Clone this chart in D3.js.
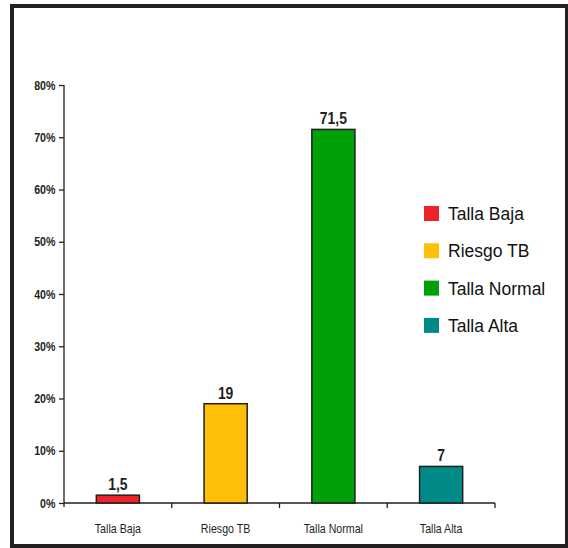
<!DOCTYPE html>
<html>
<head>
<meta charset="utf-8">
<script src="https://cdn.jsdelivr.net/npm/d3@7"></script>
<style>
  html, body { margin: 0; padding: 0; background: #fff; }
  svg { display: block; }
  text { font-family: "Liberation Sans", Arial, sans-serif; }
</style>
</head>
<body>
<svg id="chart" width="568" height="548"></svg>
<script>
// Categories, values (%) and colours of the bars
const categories = ["Talla Baja", "Riesgo TB", "Talla Normal", "Talla Alta"];
const values = [1.5, 19, 71.5, 7];
const valueLabels = ["1,5", "19", "71,5", "7"];
const colors = ["#ee2229", "#fdbf07", "#00a00b", "#008a87"];
const yTicks = [0, 10, 20, 30, 40, 50, 60, 70, 80];

const svg = d3.select("#chart");
const ink = "#231f20";
const narrow = 0.82; // horizontal squeeze for the condensed axis/value labels

// Outer frame
svg.append("rect")
  .attr("x", 12).attr("y", 6)
  .attr("width", 555).attr("height", 540)
  .attr("fill", "#fff")
  .attr("stroke", ink).attr("stroke-width", 4);

const plotLeft = 64, plotRight = 495, plotTop = 85, plotBottom = 503;

const x = d3.scaleBand().domain(categories).range([plotLeft, plotRight]);
const y = d3.scaleLinear().domain([0, 80]).range([plotBottom, plotTop]);

// Y axis
const yAxis = svg.append("g")
  .attr("transform", `translate(${plotLeft},0)`)
  .call(d3.axisLeft(y).tickValues(yTicks).tickFormat(d => d + "%").tickSizeOuter(0).tickSize(5).tickPadding(3));
yAxis.select(".domain").attr("stroke", ink).attr("stroke-width", 1.3)
  .attr("d", `M0,${plotBottom + 4}V${plotTop}`);
yAxis.selectAll(".tick line").attr("stroke", ink).attr("stroke-width", 1.3);
yAxis.selectAll(".tick text")
  .attr("x", -8.5 / narrow)
  .attr("transform", `scale(${narrow},1)`)
  .attr("fill", ink)
  .style("font-family", "'Liberation Sans', Arial, sans-serif")
  .style("font-size", "13px").style("font-weight", "bold");

// X axis: ticks at the category boundaries
const boundaries = categories.map(c => x(c)).concat([plotRight]);
const xg = svg.append("g");
xg.append("line")
  .attr("x1", plotLeft).attr("x2", plotRight)
  .attr("y1", plotBottom).attr("y2", plotBottom)
  .attr("stroke", ink).attr("stroke-width", 1.3);
xg.selectAll(".bt").data(boundaries.slice(1)).join("line")
  .attr("x1", d => d).attr("x2", d => d)
  .attr("y1", plotBottom).attr("y2", plotBottom + 5)
  .attr("stroke", ink).attr("stroke-width", 1.3);
xg.selectAll(".xl").data(categories).join("text")
  .attr("transform", d => `translate(${x(d) + x.bandwidth() / 2},533) scale(${narrow},1)`)
  .attr("text-anchor", "middle")
  .attr("fill", ink)
  .style("font-size", "13px")
  .text(d => d);

// Bars
const barW = x.bandwidth() * 0.4;
svg.selectAll(".bar").data(values).join("rect")
  .attr("x", (d, i) => x(categories[i]) + (x.bandwidth() - barW) / 2)
  .attr("y", d => y(d))
  .attr("width", barW)
  .attr("height", d => y(0) - y(d))
  .attr("fill", (d, i) => colors[i])
  .attr("stroke", ink).attr("stroke-width", 1.5);

// Value labels
svg.selectAll(".val").data(values).join("text")
  .attr("transform", (d, i) => `translate(${x(categories[i]) + x.bandwidth() / 2},${y(d) - 5}) scale(${narrow},1)`)
  .attr("text-anchor", "middle")
  .attr("fill", ink)
  .style("font-size", "17px").style("font-weight", "bold")
  .text((d, i) => valueLabels[i]);

// Legend
const legend = svg.append("g").attr("transform", "translate(424,206)");
const rows = legend.selectAll("g").data(categories).join("g")
  .attr("transform", (d, i) => `translate(0,${i * 37.3})`);
rows.append("rect")
  .attr("width", 15).attr("height", 15)
  .attr("fill", (d, i) => colors[i]);
rows.append("text")
  .attr("x", 24).attr("y", 14)
  .attr("fill", "#111")
  .style("font-size", "17.5px")
  .text(d => d);
</script>
</body>
</html>
